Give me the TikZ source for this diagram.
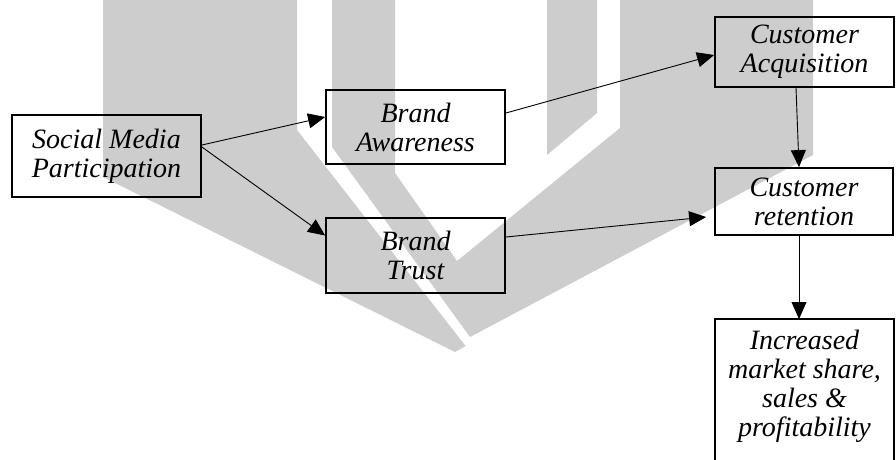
\documentclass[tikz,border=0pt]{standalone}
\usepackage{fontspec}
\setmainfont{Liberation Serif}
\usetikzlibrary{arrows.meta}
\definecolor{markgrey}{RGB}{205,205,205}

\begin{document}
\begin{tikzpicture}[x=1pt,y=-1pt,
  boxtext/.style={font=\fontsize{28}{29}\selectfont\itshape, align=center},
  stage/.style={boxtext, draw=black, line width=1.8pt, inner sep=0pt},
  link/.style={line width=0.9pt, -{Triangle[length=17pt,width=15pt]}}]
\useasboundingbox (0,0) rectangle (896,459);
\clip (0,0) rectangle (896,459);

% grey emblem in the background
\fill[markgrey] (103,0) -- (297,0) -- (297,130) -- (465.6,346) -- (455,352) -- (103,177) -- cycle;
\fill[markgrey] (332,0) -- (395,0) -- (395,173) -- (457,261) -- (620,128) -- (620,0)
  -- (813,0) -- (813,155) -- (470,337) -- (332,147) -- cycle;
\fill[markgrey] (547,0) -- (597,0) -- (597,113) -- (547,155) -- cycle;

% stages of the model
\node[stage, minimum width=189pt, minimum height=82pt] (smp) at (106.5,156) {Social Media\\Participation};
\node[stage, minimum width=179pt, minimum height=74pt] (ba) at (415.5,127) {Brand\\Awareness};
\node[stage, minimum width=179pt, minimum height=75pt] (bt) at (415.5,255.5) {Brand\\Trust};
\node[stage, minimum width=179pt, minimum height=70pt] (ca) at (804.5,52) {Customer\\Acquisition};
\node[stage, minimum width=178pt, minimum height=67pt] (cr) at (804,201.5) {Customer\\retention};

% outcome box, open towards the bottom edge
\node[boxtext, anchor=north, minimum width=179pt, inner xsep=0pt, inner ysep=11pt] (inc) at (804.5,319)
  {Increased\\market share,\\sales \&\\profitability};
\draw[line width=1.8pt] (inc.south west |- 0,480) -- (inc.north west) -- (inc.north east) -- (inc.south east |- 0,480);

% connectors
\draw[link] ([yshift=11pt]smp.east) -- ([yshift=10pt]ba.west);
\draw[link] ([yshift=9pt]smp.east) -- ([yshift=20pt]bt.west);
\draw[link] ([yshift=14pt]ba.east) -- ([yshift=-3pt]ca.west);
\draw[link] ([yshift=18.5pt]bt.east) -- ([xshift=-8pt,yshift=-15.5pt]cr.west);
\draw[link] ([xshift=-8.5pt]ca.south) -- ([xshift=-5pt]cr.north);
\draw[link] ([xshift=-5pt]cr.south) -- ([xshift=-5.5pt]inc.north);
\end{tikzpicture}
\end{document}
